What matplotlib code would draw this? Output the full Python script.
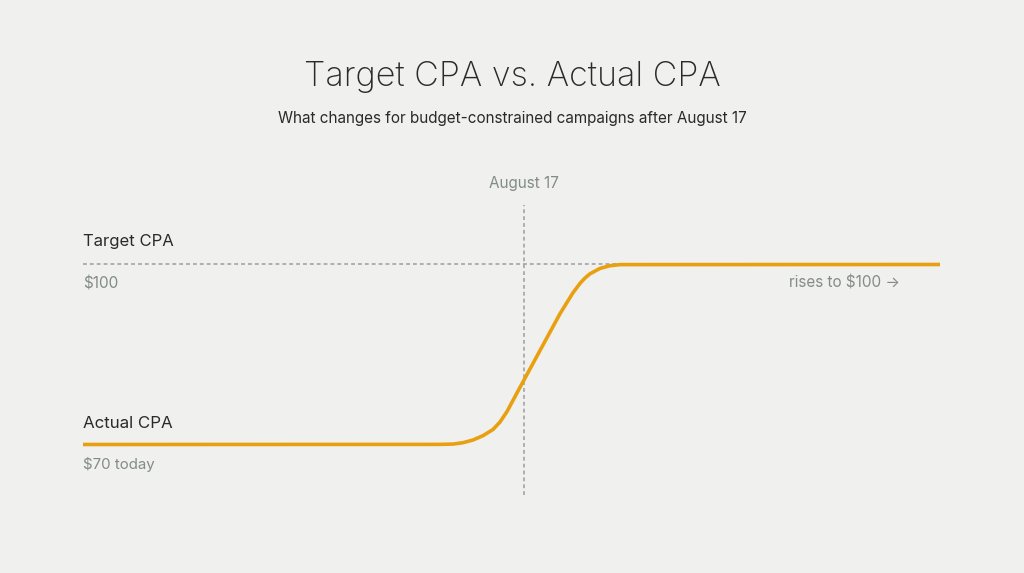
import matplotlib
matplotlib.use("Agg")
import matplotlib.pyplot as plt

# ---- data (timeline units 0..100, CPA in $) ----
timeline = [0, 41.66, 43.17, 44.34, 45.51, 46.67, 47.84, 48.66, 49.48, 50.64,
            52.16, 53.91, 55.66, 56.48, 57.18, 57.99, 58.58, 59.16, 60.33, 61.49, 62.66, 100]
actual_cpa = [70.0, 70.02, 70.07, 70.3, 70.75, 71.47, 72.5, 73.75, 75.5, 78.6,
              82.6, 87.2, 91.8, 93.7, 95.3, 96.85, 97.75, 98.45, 99.35, 99.8, 99.98, 100.0]
target_cpa = 100
target_end = 62.7
aug17 = 51.46

title = "Target CPA vs. Actual CPA"
subtitle = "What changes for budget-constrained campaigns after August 17"

BG = "#f0f0ee"
DARK = "#2a2a2a"
GREY = "#838b8b"
ORANGE = "#e9a010"
LINEGREY = "#9a9e9e"

plt.rcParams['font.family'] = ['Inter', 'DejaVu Sans']

fig = plt.figure(figsize=(10.24, 5.73), dpi=100)
fig.patch.set_facecolor(BG)

W, H = 1024, 573
left_px, right_px = 83, 940
top_px, bot_px = 205, 495
ax = fig.add_axes([left_px / W, (H - bot_px) / H, (right_px - left_px) / W, (bot_px - top_px) / H])
ax.set_facecolor(BG)
ax.set_xlim(0, 100)
ymin = 100 - (bot_px - 264.5) / 6
ymax = 100 + (264.5 - top_px) / 6
ax.set_ylim(ymin, ymax)
for s in ax.spines.values():
    s.set_visible(False)
ax.set_xticks([])
ax.set_yticks([])

# target dashed line
ax.hlines(target_cpa, 0, target_end, colors=LINEGREY, linewidth=1.1,
          linestyles=(0, (2.5, 2.0)), zorder=1)
# August 17 vertical line
ax.axvline(aug17, color=LINEGREY, linewidth=1.1, linestyle=(0, (2.5, 2.0)), zorder=1)
# actual CPA line
ax.plot(timeline, actual_cpa, color=ORANGE, linewidth=2.6, solid_capstyle='butt',
        solid_joinstyle='round', zorder=3)

# texts
fig.text(0.5, 1 - 77 / H, title, ha='center', va='center', fontsize=24.5,
         color=DARK, fontweight='light')
fig.text(0.5, 1 - 119 / H, subtitle, ha='center', va='center', fontsize=11,
         color=DARK)

ax.text(aug17, ymax + (205 - 184) / 6, "August 17", ha='center', va='center',
        fontsize=11, color=GREY)

ax.text(0, 100 + (264.5 - 242) / 6, "Target CPA", ha='left', va='center',
        fontsize=12, color=DARK)
ax.text(0, 100 - (284 - 264.5) / 6, "$100", ha='left', va='center',
        fontsize=11, color=GREY)
ax.text(0, 100 - (424 - 264.5) / 6, "Actual CPA", ha='left', va='center',
        fontsize=12.2, color=DARK)
ax.text(0, 100 - (465 - 264.5) / 6, "$70 today", ha='left', va='center',
        fontsize=10.8, color=GREY)
ax.text((900 - left_px) / 8.57, 100 - (283 - 264.5) / 6, "rises to $100 \u2192",
        ha='right', va='center', fontsize=11, color=GREY)

fig.savefig("out.png", dpi=100, facecolor=BG)
